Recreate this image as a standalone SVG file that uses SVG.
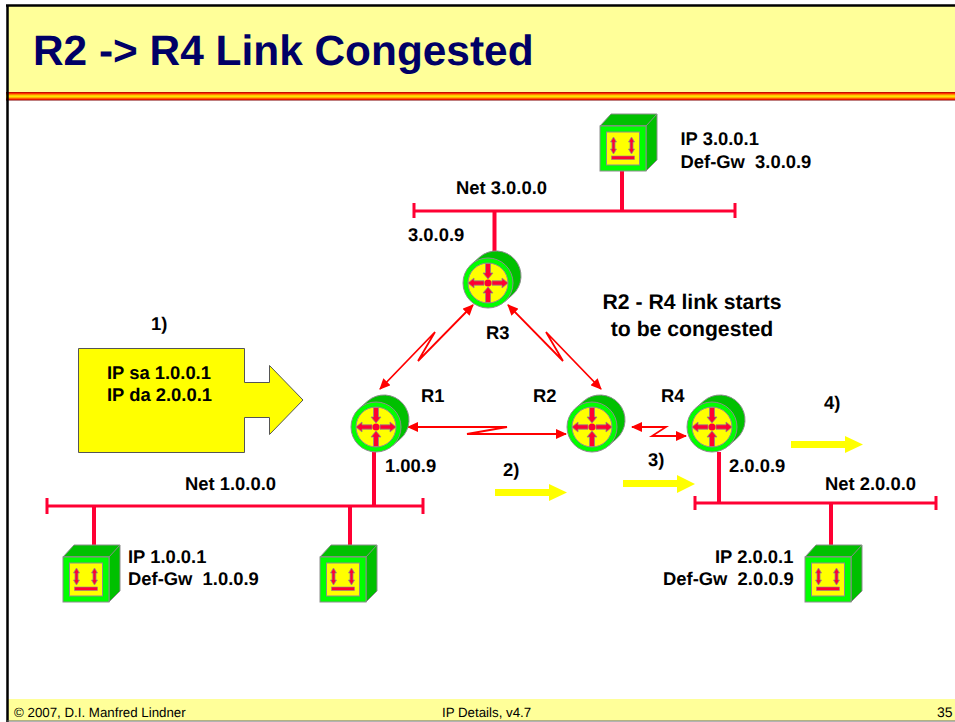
<svg xmlns="http://www.w3.org/2000/svg" xmlns:xlink="http://www.w3.org/1999/xlink" width="955" height="722" viewBox="0 0 955 722">
<style>
text{font-family:"Liberation Sans",Arial,sans-serif;font-weight:bold;font-size:18.400px;fill:#000;white-space:pre;text-rendering:geometricPrecision}
.foot{font-weight:normal;font-size:13.300px}
.big{font-size:21.200px}
.net{stroke:#ff0033;stroke-width:3;fill:none}
.drop{stroke:#ff0033;stroke-width:4;fill:none}
.link{stroke:#ff0000;stroke-width:1.800;fill:none;marker-start:url(#ah);marker-end:url(#ah)}
.flow{fill:#ffff00;stroke:none}
.gs{stroke:#8c8c8c;stroke-width:1}
.arr{fill:#ff0033;stroke:#8c8c8c;stroke-width:.8}
</style>
<defs>
<linearGradient id="band" x1="0" y1="0" x2="0" y2="1">
<stop offset="0" stop-color="#a00000"/><stop offset=".15" stop-color="#ff2000"/><stop offset=".35" stop-color="#ffb000"/><stop offset=".5" stop-color="#fff000"/><stop offset=".65" stop-color="#ffb000"/><stop offset=".85" stop-color="#ff2000"/><stop offset="1" stop-color="#800000"/>
</linearGradient>
<marker id="ah" markerUnits="userSpaceOnUse" markerWidth="11" markerHeight="10" refX="10" refY="5" orient="auto-start-reverse"><path d="M0 0L11 5L0 10Z" fill="#ff0000"/></marker>
<symbol id="router" overflow="visible" viewBox="-30 -35 65 65" width="65" height="65">
<path d="M-16.500-18.800L-8.500-25.800A25 25 0 0 1 24.500 11.800L16.500 18.800Z" fill="#00c000" class="gs"/>
<circle r="25" fill="#00ff00" class="gs"/>
<circle r="20" fill="#ffff00" class="gs"/>
<path class="arr" d="M-2.500-19.500H2.500V-10H5L0-4L-5-10H-2.500Z"/>
<path class="arr" d="M-2.500 19.500H2.500V10H5L0 4L-5 10H-2.500Z"/>
<path class="arr" d="M-4-2.200H-14V-5L-20 0L-14 5V2.200H-4Z"/>
<path class="arr" d="M4-2.200H14V-5L20 0L14 5V2.200H4Z"/>
<circle r="3.500" fill="#ff0033"/>
</symbol>
<symbol id="host" overflow="visible" viewBox="0 0 60 60" width="60" height="60">
<path d="M0 12L11 0H57V46L46 57V12Z" fill="#00c000" class="gs"/>
<path d="M0 12H46L57 0" fill="none" class="gs"/>
<rect x="0" y="12" width="46" height="45" fill="#00ff00" class="gs"/>
<rect x="6.500" y="18" width="33" height="33" fill="#ffff00" class="gs"/>
<path class="arr" d="M13.500 23L16.500 28H15V35H16.500L13.500 40L10.500 35H12V28H10.500Z"/>
<path class="arr" d="M31.500 23L34.500 28H33V35H34.500L31.500 40L28.500 35H30V28H28.500Z"/>
<rect x="11.500" y="42" width="23" height="3.500" fill="#ff0033" stroke="#8c8c8c" stroke-width=".6"/>
</symbol>
</defs>
<rect width="955" height="722" fill="#ffffff"/>
<g id="frame">
<rect x="7" y="5" width="948" height="87" fill="#ffff99"/>
<rect x="7" y="699" width="948" height="22" fill="#ffff99"/>
<rect x="6" y="92" width="949" height="8.500" fill="url(#band)"/>
<path d="M7.500 5V722M6 5.500H955" stroke="#000" stroke-width="2.500" fill="none"/>
<path d="M7 721H955" stroke="#666" stroke-width="1"/>
<text x="33" y="65" style="font-size:42.400px;fill:#000066">R2 -&gt; R4 Link Congested</text>
<text class="foot" x="14" y="717">© 2007, D.I. Manfred Lindner</text>
<text class="foot" x="442" y="717">IP Details, v4.7</text>
<text x="937" y="717" style="font-weight:normal;font-size:14px">35</text>
</g>
<g id="connectors">
<path class="net" d="M414 203V218M414 211H735M735 203V218"/>
<path class="drop" d="M622 171V211M494.500 211V252"/>
<path class="net" d="M47 498V514M47 506H423M423 498V514"/>
<path class="drop" d="M374 452V506M94 506V545M350 506V545"/>
<path class="net" d="M695 496V510M695 503H936M936 496V510"/>
<path class="drop" d="M719 452V503M831 503V545"/>
<path class="link" d="M473 305L418 361L435 332L380 389"/>
<path class="link" d="M508 305L563 361L546 332L601 389"/>
<path class="link" d="M408 427H507L467 434H566"/>
<path class="link" d="M632 427H666L652 436H686"/>
<path class="flow" d="M495 489H549V484L567 492.500L549 501V496H495Z"/>
<path class="flow" d="M623 480H677V475L695 484L677 493V487H623Z"/>
<path class="flow" d="M791 441H845V436L863 444.500L845 453V448H791Z"/>
</g>
<g id="R3"><use xlink:href="#router" href="#router" x="458" y="248"/><text x="486" y="339">R3</text></g>
<g id="R1"><use xlink:href="#router" href="#router" x="346" y="392"/><text x="421" y="402">R1</text></g>
<g id="R2"><use xlink:href="#router" href="#router" x="562" y="392"/><text x="533" y="402">R2</text></g>
<g id="R4"><use xlink:href="#router" href="#router" x="682" y="392"/><text x="661" y="402">R4</text></g>
<g id="host3"><use xlink:href="#host" href="#host" x="600" y="114"/><text x="680.500" y="145">IP 3.0.0.1</text><text x="680.500" y="168">Def-Gw  3.0.0.9</text></g>
<g id="host1"><use xlink:href="#host" href="#host" x="63" y="545"/><text x="128" y="563">IP 1.0.0.1</text><text x="128" y="585">Def-Gw  1.0.0.9</text></g>
<g id="host2"><use xlink:href="#host" href="#host" x="320" y="545"/></g>
<g id="host4"><use xlink:href="#host" href="#host" x="805" y="545"/><text x="715" y="563">IP 2.0.0.1</text><text x="663" y="585">Def-Gw  2.0.0.9</text></g>
<g id="packet">
<path d="M78.500 348.500H244.500V382.500H269.500V365.500L303 400L269.500 434.500V417.500H244.500V452.500H78.500Z" fill="#ffff00" stroke="#555" stroke-width="1"/>
<text x="107" y="379">IP sa 1.0.0.1</text><text x="107" y="401">IP da 2.0.0.1</text>
</g>
<g id="labels">
<text x="151" y="330">1)</text>
<text x="503" y="476">2)</text>
<text x="648" y="466">3)</text>
<text x="824" y="409">4)</text>
<text x="456" y="194">Net 3.0.0.0</text>
<text x="408" y="241">3.0.0.9</text>
<text x="185" y="490">Net 1.0.0.0</text>
<text x="385" y="472">1.00.9</text>
<text x="729" y="472">2.0.0.9</text>
<text x="825" y="490">Net 2.0.0.0</text>
<text class="big" x="692" y="309" text-anchor="middle">R2 - R4 link starts</text>
<text class="big" x="692" y="336" text-anchor="middle">to be congested</text>
</g>
</svg>
